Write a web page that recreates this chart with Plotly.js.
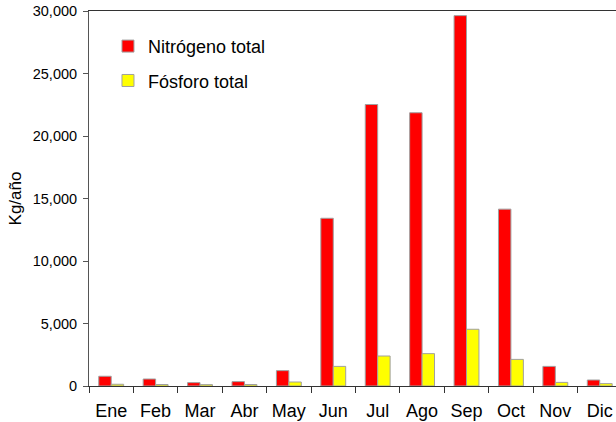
<!DOCTYPE html>
<html><head><meta charset="utf-8">
<script src="https://cdn.plot.ly/plotly-3.0.1.min.js"></script>
<style>html,body{margin:0;padding:0;background:#fff}#chart{width:616px;height:422px}</style>
</head><body><div id="chart"></div>
<script>
const months = ["Ene","Feb","Mar","Abr","May","Jun","Jul","Ago","Sep","Oct","Nov","Dic"];
const nitrogeno = [780, 560, 270, 350, 1230, 13420, 22520, 21860, 29630, 14150, 1570, 480];
const fosforo = [140, 120, 110, 120, 320, 1570, 2400, 2590, 4540, 2130, 290, 190];
const seriesNames = ["Nitrógeno total", "Fósforo total"];

const traces = [
  {type:"bar", x: months, y: nitrogeno, name: seriesNames[0], legendgroup:"a",
   marker:{color:"#ff0000", line:{color:"#a0a0a0", width:1}}},
  {type:"bar", x: months, y: fosforo, name: seriesNames[1], legendgroup:"b",
   marker:{color:"#ffff00", line:{color:"#a0a0a0", width:1}}}
];
const layout = {
  width:616, height:422,
  margin:{l:89, r:0, t:11, b:36},
  paper_bgcolor:"#fff", plot_bgcolor:"#fff",
  font:{family:"Liberation Sans, Arial, sans-serif", color:"#000"},
  barmode:"group", bargap:0.44, bargroupgap:0,
  xaxis:{type:"category", range:[-0.5, 11.366], showline:true, linecolor:"#333", linewidth:1,
    mirror:true, ticks:"outside", ticklen:6, tickcolor:"#333", showgrid:false,
    tickfont:{size:18}, tickson:"boundaries", ticklabelstandoff:8},
  yaxis:{range:[0,30000], dtick:5000, tickformat:",d", showline:true, linecolor:"#555", linewidth:1,
    ticks:"outside", ticklen:5, tickcolor:"#555", showgrid:false, zeroline:false,
    tickfont:{size:14.5}, ticklabelstandoff:3, title:{text:"Kg/año", font:{size:17}, standoff:6}},
  legend:{x:0.036, y:0.955, xanchor:"left", yanchor:"top", traceorder:"grouped", tracegroupgap:8,
    font:{size:18}, bgcolor:"rgba(0,0,0,0)"},
  showlegend:true
};
Plotly.newPlot("chart", traces, layout, {staticPlot:true});
</script></body></html>
